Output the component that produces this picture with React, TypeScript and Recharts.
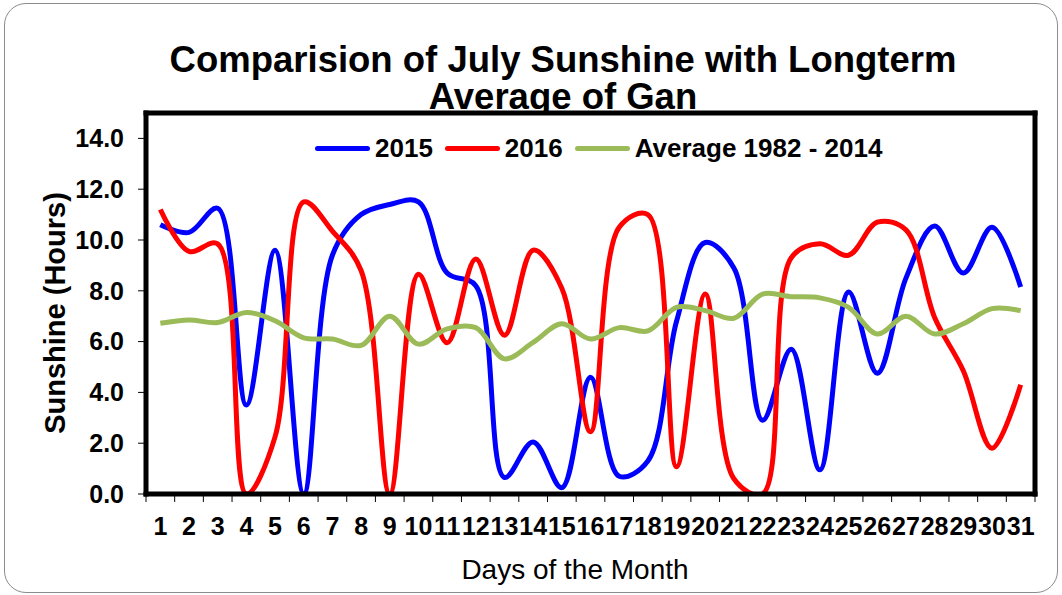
import React from 'react';
import { LineChart, Line, XAxis, YAxis, CartesianGrid } from 'recharts';

const days = ['1','2','3','4','5','6','7','8','9','10','11','12','13','14','15','16','17','18','19','20','21','22','23','24','25','26','27','28','29','30','31'];
const sunshine2015 = [10.6, 10.3, 11.25, 3.5, 9.6, 0.0, 9.4, 11.0, 11.4, 11.5, 8.7, 8.2, 0.65, 2.05, 0.25, 4.6, 0.7, 1.3, 6.8, 9.9, 8.9, 2.9, 5.7, 0.95, 7.95, 4.75, 8.5, 10.55, 8.7, 10.5, 8.15];
const sunshine2016 = [11.2, 9.55, 9.85, 0.0, 2.25, 11.5, 10.35, 8.8, 0.0, 8.65, 5.95, 9.25, 6.25, 9.6, 8.1, 2.45, 10.5, 11.0, 1.07, 7.87, 0.6, 0.0, 9.3, 9.85, 9.4, 10.7, 10.4, 6.95, 4.85, 1.8, 4.3];
const average1982to2014 = [6.72, 6.85, 6.75, 7.15, 6.82, 6.15, 6.1, 5.85, 7.0, 5.9, 6.5, 6.55, 5.32, 5.97, 6.7, 6.1, 6.55, 6.42, 7.35, 7.22, 6.92, 7.87, 7.77, 7.72, 7.35, 6.3, 7.0, 6.3, 6.7, 7.3, 7.22];
const yTicks = [0, 2, 4, 6, 8, 10, 12, 14];
const seriesNames = ['2015', '2016', 'Average 1982 - 2014'];
const seriesColors = ['#0000FF', '#FF0000', '#9BBB59'];

const data = days.map((d, i) => ({
  day: d,
  s2015: sunshine2015[i],
  s2016: sunshine2016[i],
  avg: average1982to2014[i],
}));

const W = 1062;
const H = 595;
const M = { top: 112, right: 26, bottom: 56, left: 66 };
const YW = 80;
const XH = 45;
const plotW = W - M.left - M.right - YW - 1;
const halfBand = plotW / days.length / 2;
const FONT = '"Liberation Sans", Arial, Helvetica, sans-serif';

// Smoothed line (centripetal Catmull-Rom, close to Excel's smoothing)
const smoothCurve: any = (context: any) => {
  let pts: number[][] = [];
  const dist = (a: number[], b: number[]) => Math.hypot(b[0] - a[0], b[1] - a[1]);
  return {
    areaStart() {},
    areaEnd() {},
    lineStart() { pts = []; },
    point(x: number, y: number) { pts.push([+x, +y]); },
    lineEnd() {
      const n = pts.length;
      if (n === 0) return;
      context.moveTo(pts[0][0], pts[0][1]);
      if (n === 1) return;
      for (let i = 0; i < n - 1; i++) {
        const p1 = pts[i];
        const p2 = pts[i + 1];
        const p0 = pts[i - 1];
        const p3 = pts[i + 2];
        const d12 = dist(p1, p2);
        const l12a = Math.sqrt(d12);
        let c1 = [p1[0], p1[1]];
        let c2 = [p2[0], p2[1]];
        if (p0) {
          const d01 = dist(p0, p1);
          const l01a = Math.sqrt(d01);
          if (l01a > 1e-9) {
            const a = 2 * d01 + 3 * l01a * l12a + d12;
            const nn = 3 * l01a * (l01a + l12a);
            c1 = [
              (p1[0] * a - p0[0] * d12 + p2[0] * d01) / nn,
              (p1[1] * a - p0[1] * d12 + p2[1] * d01) / nn,
            ];
          }
        }
        if (p3) {
          const d23 = dist(p2, p3);
          const l23a = Math.sqrt(d23);
          if (l23a > 1e-9) {
            const b = 2 * d23 + 3 * l23a * l12a + d12;
            const mm = 3 * l23a * (l23a + l12a);
            c2 = [
              (p2[0] * b + p1[0] * d23 - p3[0] * d12) / mm,
              (p2[1] * b + p1[1] * d23 - p3[1] * d12) / mm,
            ];
          }
        }
        context.bezierCurveTo(c1[0], c1[1], c2[0], c2[1], p2[0], p2[1]);
      }
    },
  };
};

const XTick = (props: any) => {
  const { x, y, payload, index } = props;
  return (
    <g>
      <line x1={x - halfBand} x2={x - halfBand} y1={y} y2={y + 8} stroke="#000" strokeWidth={1} />
      {index === days.length - 1 && (
        <line x1={x + halfBand} x2={x + halfBand} y1={y} y2={y + 8} stroke="#000" strokeWidth={1} />
      )}
      <text x={x} y={y + 41} textAnchor="middle" fontSize={25} fontWeight="bold" fontFamily={FONT} fill="#000">
        {payload.value}
      </text>
    </g>
  );
};

const LegendBox = () => (
  <div style={{ position: 'absolute', left: 315, top: 133, display: 'flex', alignItems: 'center', fontFamily: FONT, fontWeight: 'bold', fontSize: 26, lineHeight: '30px', color: '#000', whiteSpace: 'nowrap' }}>
    {seriesNames.map((n, i) => (
      <div key={n} style={{ display: 'flex', alignItems: 'center', marginRight: 12 }}>
        <div style={{ width: 55, height: 5, borderRadius: 3, background: seriesColors[i], marginRight: 5 }} />
        <span>{n}</span>
      </div>
    ))}
  </div>
);

export default function App() {
  return (
    <div style={{ position: 'absolute', left: 0, top: 0, width: W, height: H, background: '#fff', overflow: 'hidden' }}>
      <div style={{ position: 'absolute', left: 4, top: 3, width: 1054, height: 590, border: '1.5px solid #8c8c8c', borderRadius: 22, boxSizing: 'border-box' }} />
      <div style={{ position: 'absolute', left: 0, top: 41, width: 1126, textAlign: 'center', fontFamily: FONT, fontWeight: 'bold', fontSize: 36.5, lineHeight: '37px', color: '#000' }}>
        Comparision of July Sunshine with Longterm<br />Average of Gan
      </div>
      <div style={{ position: 'absolute', left: 0, top: 556, width: 1150, textAlign: 'center', fontFamily: FONT, fontSize: 28, lineHeight: '28px', color: '#000' }}>
        Days of the Month
      </div>
      <div style={{ position: 'absolute', left: 55 - 150, top: 313 - 16, width: 300, height: 32, textAlign: 'center', fontFamily: FONT, fontWeight: 'bold', fontSize: 29, lineHeight: '32px', color: '#000', transform: 'rotate(-90deg)' }}>
        Sunshine (Hours)
      </div>
      <div style={{ position: 'absolute', left: 0, top: 0 }}>
        <LineChart width={W} height={H} data={data} margin={M}>
          <CartesianGrid horizontal={false} vertical={false} fill="#fff" />
          <XAxis
            dataKey="day"
            scale="band"
            height={XH}
            interval={0}
            tick={<XTick />}
            tickLine={false}
            tickSize={0}
            tickMargin={0}
            axisLine={{ stroke: '#000', strokeWidth: 5, strokeLinecap: 'square' }}
          />
          <XAxis
            xAxisId="top"
            dataKey="day"
            scale="band"
            orientation="top"
            height={1}
            tick={false}
            tickLine={false}
            axisLine={{ stroke: '#000', strokeWidth: 5, strokeLinecap: 'square' }}
          />
          <YAxis
            width={YW}
            domain={[0, 15]}
            ticks={yTicks}
            allowDataOverflow
            interval={0}
            tickFormatter={(v: number) => v.toFixed(1)}
            tick={{ fontSize: 25, fontWeight: 'bold', fill: '#000', fontFamily: FONT }}
            tickSize={8}
            tickMargin={14}
            tickLine={{ stroke: '#000', strokeWidth: 1 }}
            axisLine={{ stroke: '#000', strokeWidth: 5, strokeLinecap: 'square' }}
          />
          <YAxis
            yAxisId="r"
            orientation="right"
            width={1}
            domain={[0, 15]}
            tick={false}
            tickLine={false}
            axisLine={{ stroke: '#000', strokeWidth: 5, strokeLinecap: 'square' }}
          />
          <Line dataKey="s2015" name={seriesNames[0]} stroke={seriesColors[0]} strokeWidth={5} type={smoothCurve} dot={false} isAnimationActive={false} />
          <Line dataKey="s2016" name={seriesNames[1]} stroke={seriesColors[1]} strokeWidth={5} type={smoothCurve} dot={false} isAnimationActive={false} />
          <Line dataKey="avg" name={seriesNames[2]} stroke={seriesColors[2]} strokeWidth={5} type={smoothCurve} dot={false} isAnimationActive={false} />
          <Line dataKey="avg" xAxisId="top" yAxisId="r" stroke="none" strokeWidth={0} dot={false} activeDot={false} legendType="none" isAnimationActive={false} />
        </LineChart>
      </div>
      <LegendBox />
    </div>
  );
}
